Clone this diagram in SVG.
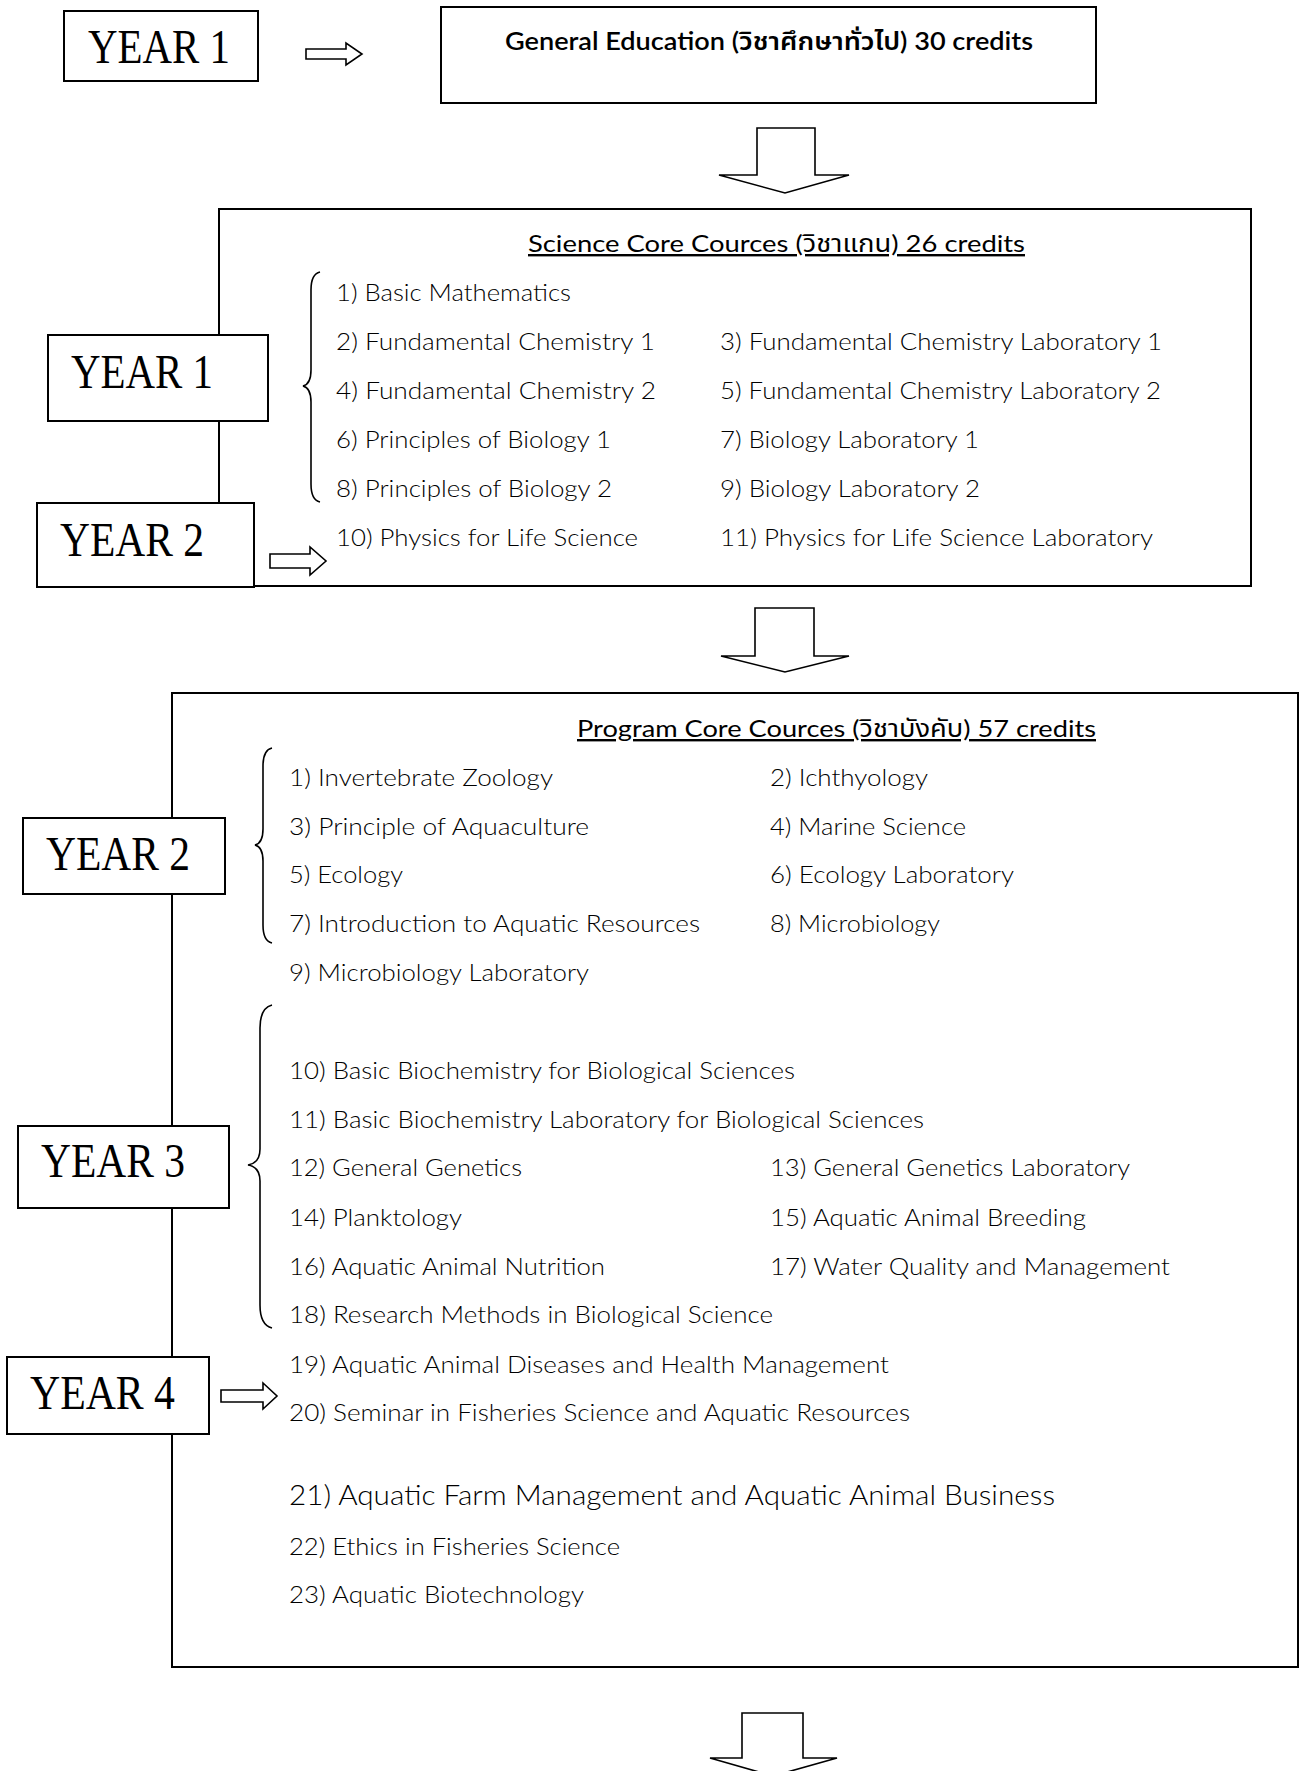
<svg xmlns="http://www.w3.org/2000/svg" width="1303" height="1771" viewBox="0 0 1303 1771">
<style>
.box{fill:#fff;stroke:#000;stroke-width:2}
.big{fill:none;stroke:#000;stroke-width:2}
.arr{fill:#fff;stroke:#000;stroke-width:1.6;stroke-linejoin:miter}
.brace{fill:none;stroke:#000;stroke-width:1.6}
.yr{font-family:"Liberation Serif","Times New Roman",serif;font-size:48px;fill:#000}
.it{font-family:"Lato","Liberation Sans","Noto Sans",sans-serif;font-size:24px;font-weight:300;fill:#000}
.ttl{font-family:"Lato","Liberation Sans","Noto Sans Thai","Noto Sans",sans-serif;font-size:24px;fill:#000;text-decoration:underline}
.ge{font-family:"Lato","Liberation Sans","Noto Sans Thai","Noto Sans",sans-serif;font-size:24px;font-weight:600;fill:#000}
</style>

<g id="connectors">
<path class="arr" d="M306,49 H346 V43 L362,54 L346,65 V59 H306 Z"/>
<path class="arr" d="M757,128 H815 V175 H849 L785,193 L719,175 H757 Z"/>
<path class="arr" d="M270,554 H310 V547 L326,561 L310,575 V568 H270 Z"/>
<path class="arr" d="M755,608 H814 V656 H849 L785,672 L721,656 H755 Z"/>
<path class="arr" d="M221,1390 H263 V1383 L277,1396 L263,1409 V1402 H221 Z"/>
<path class="arr" d="M742,1713 H803 V1758 H837 L773,1776 L710,1758 H742 Z"/>
</g>

<g id="general-education">
<rect class="box" x="441" y="7" width="655" height="96"/>
<text class="ge" x="505" y="50" textLength="528" lengthAdjust="spacingAndGlyphs">General Education (วิชาศึกษาทั่วไป) 30 credits</text>
</g>

<g id="year1-top">
<rect class="box" x="64" y="11" width="194" height="70"/>
<text class="yr" x="88" y="63" textLength="142" lengthAdjust="spacingAndGlyphs">YEAR 1</text>
</g>

<g id="science-core">
<rect class="big" x="219" y="209" width="1032" height="377"/>
<text class="ttl" x="528" y="252" textLength="497" lengthAdjust="spacingAndGlyphs">Science Core Cources (วิชาแกน) 26 credits</text>
<path class="brace" d="M320,272 Q311,274 311,290 V370 Q311,384 303,386 Q311,388 311,402 V484 Q311,500 320,502"/>
<text class="it" x="336" y="301" textLength="235" lengthAdjust="spacingAndGlyphs">1) Basic Mathematics</text>
<text class="it" x="336" y="350" textLength="319" lengthAdjust="spacingAndGlyphs">2) Fundamental Chemistry 1</text>
<text class="it" x="336" y="399" textLength="320" lengthAdjust="spacingAndGlyphs">4) Fundamental Chemistry 2</text>
<text class="it" x="336" y="448" textLength="275" lengthAdjust="spacingAndGlyphs">6) Principles of Biology 1</text>
<text class="it" x="336" y="497" textLength="276" lengthAdjust="spacingAndGlyphs">8) Principles of Biology 2</text>
<text class="it" x="336" y="546" textLength="302" lengthAdjust="spacingAndGlyphs">10) Physics for Life Science</text>
<text class="it" x="720" y="350" textLength="442" lengthAdjust="spacingAndGlyphs">3) Fundamental Chemistry Laboratory 1</text>
<text class="it" x="720" y="399" textLength="441" lengthAdjust="spacingAndGlyphs">5) Fundamental Chemistry Laboratory 2</text>
<text class="it" x="720" y="448" textLength="259" lengthAdjust="spacingAndGlyphs">7) Biology Laboratory 1</text>
<text class="it" x="720" y="497" textLength="260" lengthAdjust="spacingAndGlyphs">9) Biology Laboratory 2</text>
<text class="it" x="720" y="546" textLength="433" lengthAdjust="spacingAndGlyphs">11) Physics for Life Science Laboratory</text>
</g>

<g id="year1-science">
<rect class="box" x="48" y="335" width="220" height="86"/>
<text class="yr" x="71" y="388" textLength="142" lengthAdjust="spacingAndGlyphs">YEAR 1</text>
</g>

<g id="year2-science">
<rect class="box" x="37" y="503" width="217" height="84"/>
<text class="yr" x="60" y="556" textLength="144" lengthAdjust="spacingAndGlyphs">YEAR 2</text>
</g>

<g id="program-core">
<rect class="big" x="172" y="693" width="1126" height="974"/>
<text class="ttl" x="577" y="737" textLength="519" lengthAdjust="spacingAndGlyphs">Program Core Cources (วิชาบังคับ) 57 credits</text>
<path class="brace" d="M272,748 Q263,750 263,766 V829 Q263,843 255,845 Q263,847 263,861 V925 Q263,941 272,943"/>
<path class="brace" d="M272,1005 Q260,1008 260,1028 V1149 Q260,1163 248,1165 Q260,1167 260,1181 V1305 Q260,1325 272,1328"/>
<text class="it" x="289" y="786" textLength="264" lengthAdjust="spacingAndGlyphs">1) Invertebrate Zoology</text>
<text class="it" x="289" y="835" textLength="300" lengthAdjust="spacingAndGlyphs">3) Principle of Aquaculture</text>
<text class="it" x="289" y="883" textLength="114" lengthAdjust="spacingAndGlyphs">5) Ecology</text>
<text class="it" x="289" y="932" textLength="411" lengthAdjust="spacingAndGlyphs">7) Introduction to Aquatic Resources</text>
<text class="it" x="289" y="981" textLength="300" lengthAdjust="spacingAndGlyphs">9) Microbiology Laboratory</text>
<text class="it" x="770" y="786" textLength="158" lengthAdjust="spacingAndGlyphs">2) Ichthyology</text>
<text class="it" x="770" y="835" textLength="196" lengthAdjust="spacingAndGlyphs">4) Marine Science</text>
<text class="it" x="770" y="883" textLength="244" lengthAdjust="spacingAndGlyphs">6) Ecology Laboratory</text>
<text class="it" x="770" y="932" textLength="170" lengthAdjust="spacingAndGlyphs">8) Microbiology</text>
<text class="it" x="289" y="1079" textLength="506" lengthAdjust="spacingAndGlyphs">10) Basic Biochemistry for Biological Sciences</text>
<text class="it" x="289" y="1128" textLength="635" lengthAdjust="spacingAndGlyphs">11) Basic Biochemistry Laboratory for Biological Sciences</text>
<text class="it" x="289" y="1176" textLength="233" lengthAdjust="spacingAndGlyphs">12) General Genetics</text>
<text class="it" x="289" y="1226" textLength="173" lengthAdjust="spacingAndGlyphs">14) Planktology</text>
<text class="it" x="289" y="1275" textLength="316" lengthAdjust="spacingAndGlyphs">16) Aquatic Animal Nutrition</text>
<text class="it" x="289" y="1323" textLength="484" lengthAdjust="spacingAndGlyphs">18) Research Methods in Biological Science</text>
<text class="it" x="289" y="1373" textLength="600" lengthAdjust="spacingAndGlyphs">19) Aquatic Animal Diseases and Health Management</text>
<text class="it" x="289" y="1421" textLength="621" lengthAdjust="spacingAndGlyphs">20) Seminar in Fisheries Science and Aquatic Resources</text>
<text class="it" x="770" y="1176" textLength="360" lengthAdjust="spacingAndGlyphs">13) General Genetics Laboratory</text>
<text class="it" x="770" y="1226" textLength="316" lengthAdjust="spacingAndGlyphs">15) Aquatic Animal Breeding</text>
<text class="it" x="770" y="1275" textLength="400" lengthAdjust="spacingAndGlyphs">17) Water Quality and Management</text>
<text class="it" x="289" y="1505" style="font-size:28px" textLength="766" lengthAdjust="spacingAndGlyphs">21) Aquatic Farm Management and Aquatic Animal Business</text>
<text class="it" x="289" y="1555" textLength="331" lengthAdjust="spacingAndGlyphs">22) Ethics in Fisheries Science</text>
<text class="it" x="289" y="1603" textLength="295" lengthAdjust="spacingAndGlyphs">23) Aquatic Biotechnology</text>
</g>

<g id="year2-program">
<rect class="box" x="23" y="818" width="202" height="76"/>
<text class="yr" x="46" y="870" textLength="144" lengthAdjust="spacingAndGlyphs">YEAR 2</text>
</g>

<g id="year3">
<rect class="box" x="18" y="1126" width="211" height="82"/>
<text class="yr" x="41" y="1177" textLength="144" lengthAdjust="spacingAndGlyphs">YEAR 3</text>
</g>

<g id="year4">
<rect class="box" x="7" y="1357" width="202" height="77"/>
<text class="yr" x="30" y="1409" textLength="145" lengthAdjust="spacingAndGlyphs">YEAR 4</text>
</g>
</svg>
